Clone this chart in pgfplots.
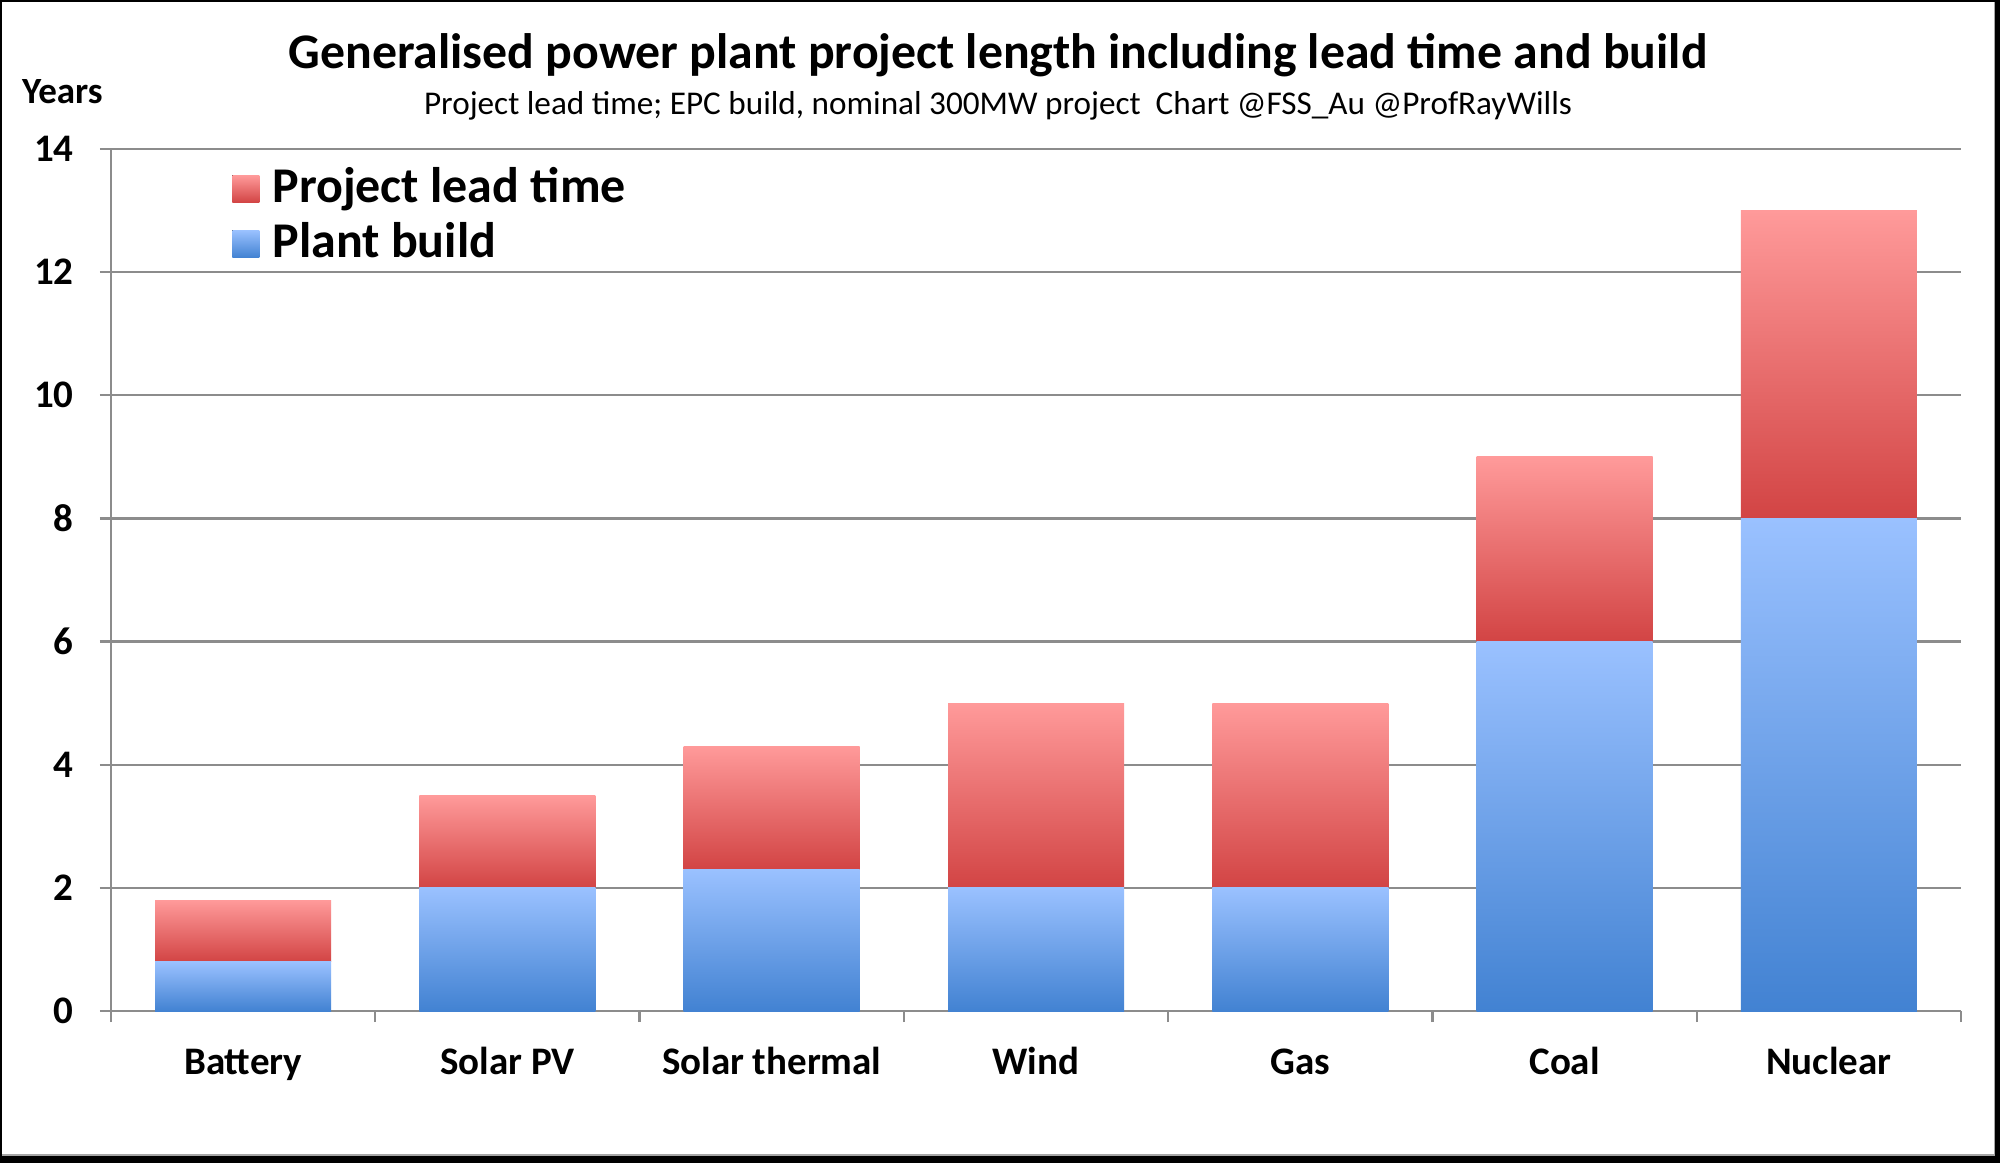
\documentclass[border=0pt]{standalone}
\usepackage{fontspec}
\setmainfont{Carlito}
\usepackage{pgfplots}
\pgfplotsset{compat=1.18}

\definecolor{leadtop}{HTML}{FF9A9A}
\definecolor{leadbot}{HTML}{D24444}
\definecolor{buildtop}{HTML}{9AC1FF}
\definecolor{buildbot}{HTML}{4282D2}
\definecolor{gridgray}{HTML}{8C8C8C}

\pgfplotsset{
    build/.style={draw=none, top color=buildtop, bottom color=buildbot},
    lead/.style={draw=none, top color=leadtop, bottom color=leadbot},
    % same geometry for every overlaid axis (one axis per category, so each bar gets its own gradient)
    base/.style={
        at={(55.5pt,76pt)}, anchor=south west,
        scale only axis,
        width=925pt, height=431pt,
        ybar stacked, bar width=88pt,
        xmin=-0.5, xmax=6.5,
        ymin=0, ymax=14,
    },
}

\begin{document}
\begin{tikzpicture}
% frame
\fill[black] (0pt,0pt) rectangle (1000pt,581.5pt);
\fill[gray!70] (1pt,3.5pt) rectangle (997.5pt,580.5pt);
\fill[white] (1pt,4.5pt) rectangle (997pt,580.5pt);

\begin{axis}[
    base,
    ytick={0,2,...,14},
    xtick={0,...,6},
    xticklabels={Battery,Solar PV,Solar thermal,Wind,Gas,Coal,Nuclear},
    axis x line*=bottom, axis y line*=left,
    axis line style={draw=gridgray, line width=1.1pt},
    ymajorgrids,
    grid style={draw=gridgray, line width=1.1pt},
    tick align=outside,
    major tick length=5.5pt,
    tick style={draw=gridgray, line width=1.1pt},
    major x tick style={draw=none},
    extra x ticks={-0.5,0.5,...,6.5},
    extra x tick labels={},
    extra x tick style={grid=none, major x tick style={draw=gridgray, line width=1.1pt}},
    /pgf/number format/assume math mode=true,
    yticklabel style={font=\bfseries\fontsize{19.5}{23}\selectfont, anchor=east, inner sep=0pt, xshift=-13pt},
    xticklabel style={font=\bfseries\fontsize{19.5}{23}\selectfont, anchor=base, inner sep=0pt, yshift=-26pt},
    reverse legend,
    legend image code/.code={\fill[#1] (0pt,0pt) rectangle (13.5pt,13.5pt);},
    legend style={draw=none, fill=none, inner sep=0pt,
        at={(0,1)}, anchor=north west, xshift=60.5pt, yshift=-8.5pt,
        font=\bfseries\fontsize{25}{29}\selectfont,
        column sep=6.5pt, row sep=4.5pt,
        cells={anchor=base west},
        nodes={inner sep=0pt, text height=18pt, text depth=5pt}},
]
% Battery
\addplot[build] coordinates {(0,0.8)};
\addplot[lead] coordinates {(0,1.0)};
\legend{Plant build, Project lead time}
\end{axis}

% Solar PV
\begin{axis}[base, hide axis]
\addplot[build] coordinates {(1,2)};
\addplot[lead] coordinates {(1,1.5)};
\end{axis}
% Solar thermal
\begin{axis}[base, hide axis]
\addplot[build] coordinates {(2,2.3)};
\addplot[lead] coordinates {(2,2.0)};
\end{axis}
% Wind
\begin{axis}[base, hide axis]
\addplot[build] coordinates {(3,2)};
\addplot[lead] coordinates {(3,3)};
\end{axis}
% Gas
\begin{axis}[base, hide axis]
\addplot[build] coordinates {(4,2)};
\addplot[lead] coordinates {(4,3)};
\end{axis}
% Coal
\begin{axis}[base, hide axis]
\addplot[build] coordinates {(5,6)};
\addplot[lead] coordinates {(5,3)};
\end{axis}
% Nuclear
\begin{axis}[base, hide axis]
\addplot[build] coordinates {(6,8)};
\addplot[lead] coordinates {(6,5)};
\end{axis}

\node[anchor=base, font=\bfseries\fontsize{24.9}{29}\selectfont] at (499pt,547pt)
    {Generalised power plant project length including lead time and build};
\node[anchor=base, font=\fontsize{16.6}{20}\selectfont] at (499pt,524pt)
    {Project lead time; EPC build, nominal 300MW project\ \ Chart @FSS\_Au @ProfRayWills};
\node[anchor=base west, inner sep=0pt, font=\bfseries\fontsize{18.5}{22}\selectfont] at (10.8pt,529.5pt) {Years};
\end{tikzpicture}
\end{document}
